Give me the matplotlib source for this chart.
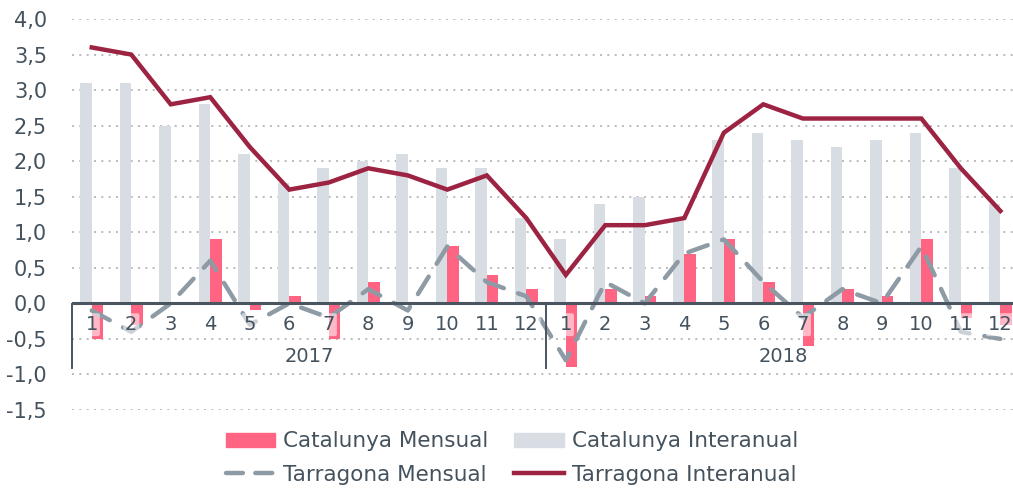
import matplotlib
matplotlib.use("Agg")
import matplotlib.pyplot as plt
import numpy as np
from matplotlib.patches import Patch
from matplotlib.lines import Line2D

# ---- data ----
years = ["2017", "2018"]
months = [str(m) for m in range(1, 13)] * 2

cat_mensual = [-0.5, -0.3, 0.0, 0.9, -0.1, 0.1, -0.5, 0.3, 0.0, 0.8, 0.4, 0.2,
               -0.9, 0.2, 0.1, 0.7, 0.9, 0.3, -0.6, 0.2, 0.1, 0.9, -0.2, -0.3]
cat_interanual = [3.1, 3.1, 2.5, 2.8, 2.1, 1.7, 1.9, 2.0, 2.1, 1.9, 1.9, 1.2,
                  0.9, 1.4, 1.5, 1.2, 2.3, 2.4, 2.3, 2.2, 2.3, 2.4, 1.9, 1.4]
tar_mensual = [-0.1, -0.4, 0.0, 0.6, -0.3, 0.0, -0.2, 0.2, -0.1, 0.8, 0.3, 0.1,
               -0.8, 0.3, 0.0, 0.7, 0.9, 0.3, -0.2, 0.2, 0.0, 0.8, -0.4, -0.5]
tar_interanual = [3.6, 3.5, 2.8, 2.9, 2.2, 1.6, 1.7, 1.9, 1.8, 1.6, 1.8, 1.2,
                  0.4, 1.1, 1.1, 1.2, 2.4, 2.8, 2.6, 2.6, 2.6, 2.6, 1.9, 1.3]
yticks = [-1.5, -1.0, -0.5, 0.0, 0.5, 1.0, 1.5, 2.0, 2.5, 3.0, 3.5, 4.0]

PINK = "#FF6482"
LGREY = "#D8DCE3"
DASH = "#8E9BA5"
RED = "#9C2341"
TXT = "#44525E"
FS = 14

plt.rcParams['font.family'] = ['DejaVu Sans']

fig = plt.figure(figsize=(10.13, 4.88), dpi=100)
ax = fig.add_axes([72/1013, 78/488, 941/1013, 391/488])

x = np.arange(len(months))
w = 0.29
ax.bar(x - w/2, cat_interanual, w, color=LGREY, zorder=2)
ax.bar(x + w/2, cat_mensual, w, color=PINK, zorder=3)
ax.plot(x, tar_mensual, color=DASH, lw=3.2, dashes=(4.6, 3.4),
        dash_capstyle='round', solid_capstyle='round', zorder=4)
ax.plot(x, tar_interanual, color=RED, lw=3.2, solid_joinstyle='miter', zorder=5)

ax.set_xlim(-0.5, 23.32)
ax.set_ylim(-1.5, 4.0)
ax.set_yticks(yticks)
ax.set_yticklabels([f"{v:.1f}".replace(".", ",") for v in yticks])
ax.tick_params(axis='y', length=0, pad=18, labelsize=15, labelcolor=TXT)
ax.set_xticks([])
for s in ax.spines.values():
    s.set_visible(False)
ax.grid(axis='y', color="#B0B0B0", linestyle=(0, (1.2, 3.2)), lw=1.2, zorder=0)

# zero line and category separators
ax.axhline(0, color="#4A5560", lw=2.2, zorder=6)
ax.vlines([-0.5, 11.5], -0.93, 0, color="#4A5560", lw=1.4, zorder=6, clip_on=False)

# month and year labels
for i, m in enumerate(months):
    ax.text(i, -0.3, m, ha='center', va='center', fontsize=FS, color=TXT, zorder=7,
            bbox=dict(boxstyle='round,pad=0.1', fc='white', ec='none', alpha=0.55))
for j, yr in enumerate(years):
    ax.text(j*12 + 5.5, -0.75, yr, ha='center', va='center', fontsize=FS, color=TXT)

handles = [Patch(color=PINK),
           Line2D([], [], color=DASH, lw=3.2, dashes=(3.8, 2.8), dash_capstyle='round'),
           Patch(color=LGREY), Line2D([], [], color=RED, lw=3.2)]
labels = ["Catalunya Mensual", "Tarragona Mensual", "Catalunya Interanual", "Tarragona Interanual"]
fig.legend(handles, labels, ncol=2, loc='center', bbox_to_anchor=(512/1013, 30/488),
           frameon=False, fontsize=15.5, labelcolor=TXT, handlelength=2.3, handleheight=0.6,
           handletextpad=0.37, columnspacing=1.2, labelspacing=0.62, borderpad=0.2)

fig.savefig("out.png", dpi=100)
